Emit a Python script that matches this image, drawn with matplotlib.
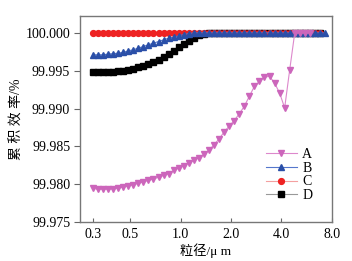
import matplotlib
matplotlib.use("Agg")
import matplotlib.pyplot as plt
from matplotlib.ticker import FixedLocator, FixedFormatter, NullLocator

plt.rcParams['font.family'] = ['Liberation Serif', 'Noto Sans CJK SC']

# particle size (um), log-spaced channels
size_um = [0.300, 0.3215, 0.3446, 0.3693, 0.3958, 0.4243, 0.4547, 0.4873, 0.5223, 0.5598,
           0.600, 0.643, 0.689, 0.739, 0.792, 0.849, 0.909, 0.975, 1.045, 1.120,
           1.200, 1.286, 1.378, 1.477, 1.583, 1.697, 1.819, 1.949, 2.089, 2.239,
           2.400, 2.572, 2.757, 2.955, 3.167, 3.394, 3.638, 3.899, 4.179, 4.479,
           4.800, 5.145, 5.514, 5.910, 6.334, 6.789, 7.276]

eff_a = [99.97947, 99.97934, 99.97934, 99.97934, 99.97940, 99.97948, 99.97962, 99.97978, 99.97993, 99.98012,
         99.98032, 99.98050, 99.98070, 99.98092, 99.98116, 99.98140, 99.98184, 99.98212, 99.98243, 99.98280,
         99.98315, 99.98350, 99.98395, 99.98450, 99.98520, 99.98600, 99.98690, 99.98767, 99.98842, 99.98930,
         99.99030, 99.99162, 99.99293, 99.99359, 99.99417, 99.99425, 99.99338, 99.99206, 99.99009, 99.99513,
         100.0, 100.0, 100.0, 100.0]

eff_b = [99.99710, 99.99710, 99.99710, 99.99720, 99.99724, 99.99733, 99.99741, 99.99763, 99.99776, 99.99799,
         99.99820, 99.99842, 99.99864, 99.99886, 99.99908, 99.99930, 99.99943, 99.99961, 99.99978, 99.99991,
         100.0, 100.0, 100.0, 100.0, 100.0, 100.0, 100.0, 100.0, 100.0, 100.0,
         100.0, 100.0, 100.0, 100.0, 100.0, 100.0, 100.0, 100.0, 100.0, 100.0,
         100.0, 100.0, 100.0, 100.0, 100.0, 100.0, 100.0]

eff_c = [100.0] * 46

eff_d = [99.99483, 99.99483, 99.99483, 99.99483, 99.99487, 99.99491, 99.99500, 99.99513, 99.99526, 99.99543,
         99.99566, 99.99588, 99.99614, 99.99645, 99.99680, 99.99720, 99.99763, 99.99807, 99.99851, 99.99899,
         99.99938, 99.99970, 99.99991, 100.0, 100.0, 100.0, 100.0, 100.0, 100.0, 100.0,
         100.0, 100.0, 100.0, 100.0, 100.0, 100.0, 100.0, 100.0, 100.0, 100.0,
         100.0, 100.0, 100.0, 100.0, 100.0, 100.0]

x_ticks = [0.3, 0.5, 1.0, 2.0, 4.0, 8.0]
x_labels = ["0.3", "0.5", "1.0", "2.0", "4.0", "8.0"]
y_ticks = [99.975, 99.980, 99.985, 99.990, 99.995, 100.000]

fig = plt.figure(figsize=(3.52, 2.61), dpi=100)
ax = fig.add_axes([0.227, 0.149, 0.716, 0.790])

ax.plot(size_um[:len(eff_a)], eff_a, color='#dd88cc', lw=0.8, marker='v', ms=4.8,
        mfc='#cc66bb', mec='#cc66bb', label='A', zorder=5)
ax.plot(size_um[:len(eff_b)], eff_b, color='#5577cc', lw=0.8, marker='^', ms=4.8,
        mfc='#2a4fa8', mec='#2a4fa8', label='B', zorder=3)
ax.plot(size_um[:len(eff_c)], eff_c, color='#f4a0a0', lw=0.8, marker='o', ms=4.2,
        mfc='#ee2222', mec='#ee2222', label='C', zorder=2)
ax.plot(size_um[:len(eff_d)], eff_d, color='#999999', lw=0.8, marker='s', ms=4,
        mfc='black', mec='black', label='D', zorder=1)

ax.set_xscale('log')
ax.set_xlim(0.251, 8.0)
ax.set_ylim(99.975, 100.00224)
ax.xaxis.set_major_locator(FixedLocator(x_ticks))
ax.xaxis.set_major_formatter(FixedFormatter(x_labels))
ax.xaxis.set_minor_locator(NullLocator())
ax.set_yticks(y_ticks)
ax.set_yticklabels(["%.3f" % v for v in y_ticks])

ax.tick_params(axis='x', direction='in', length=3, labelsize=10, color='#666666', pad=4)
ax.tick_params(axis='y', direction='out', length=4, labelsize=10, color='#666666', pad=3)
for s in ax.spines.values():
    s.set_color('#777777')
    s.set_linewidth(1.0)

ax.set_xlabel("粒径/μ m", fontsize=9.5, labelpad=2)
ax.set_ylabel("累 积 效 率/%", fontsize=10, labelpad=1)

ax.legend(loc='lower right', bbox_to_anchor=(0.96, 0.05), frameon=False, fontsize=10,
          handlelength=2.2, handletextpad=0.4, labelspacing=0.05, borderpad=0.2)

fig.savefig("out.png", dpi=100)
